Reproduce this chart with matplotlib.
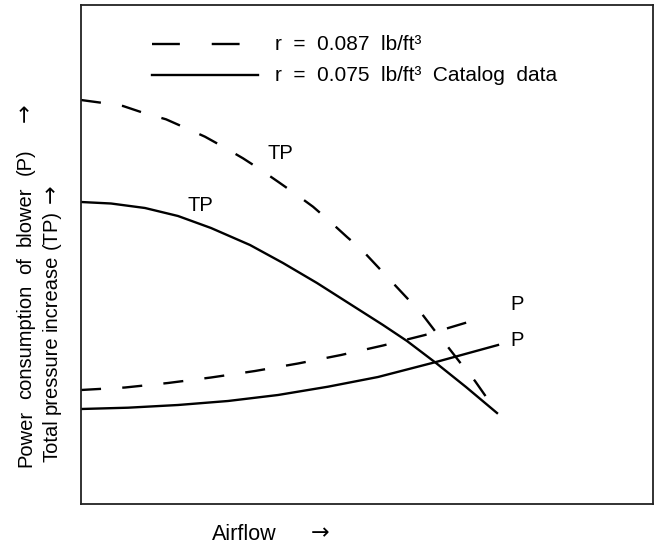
import matplotlib
matplotlib.use('Agg')
import matplotlib.pyplot as plt
from matplotlib.lines import Line2D

plt.rcParams['font.family'] = ['Liberation Sans', 'DejaVu Sans']

# chart units: x = airflow, y = TP / P (arbitrary)
tp_dense_x = [0, 20, 42, 62, 85, 104, 124, 142, 162, 179, 197, 215, 232, 249,
              266, 281, 296, 311, 326, 341, 354, 367, 381, 394, 415]
tp_dense_y = [404, 401.3, 398, 391.3, 384.7, 376.3, 367.3, 357.3, 345.7, 334.7,
              322.3, 309.7, 297.3, 282.5, 267, 254, 238, 222, 206, 190, 173,
              157, 139, 123, 93]

tp_cat_x = [0, 30, 64, 97, 130, 169, 202, 236, 269, 302, 326, 355, 385, 416]
tp_cat_y = [302, 300.5, 296, 288, 276, 259, 241, 221, 200, 179, 163, 141, 117, 91]

p_dense_x = [0, 44, 87, 130, 174, 217, 260, 302, 344, 384, 404]
p_dense_y = [114, 116.5, 121, 126.5, 133, 140.5, 149, 158.5, 169, 181, 187]

p_cat_x = [0, 47, 97, 147, 197, 247, 297, 355, 417]
p_cat_y = [95, 96.3, 99, 103, 109, 117.3, 127, 142, 159]

legend_labels = ['r  =  0.087  lb/ft³', 'r  =  0.075  lb/ft³  Catalog  data']

ylabel1 = ['Power', 'consumption', 'of', 'blower', '(P)']
ylabel2 = ['Total', 'pressure', 'increase', '(TP)']

W, H = 655, 544
fig = plt.figure(figsize=(W / 100, H / 100), dpi=100)
ax = fig.add_axes([81 / W, 40 / H, 572 / W, 499 / H])
ax.set_xlim(0, 572)
ax.set_ylim(0, 499)
ax.set_xticks([])
ax.set_yticks([])
for s in ax.spines.values():
    s.set_linewidth(1.3)
    s.set_color('#222222')

lw = 1.7
dash = (0, (8.5, 9.0))
ax.plot(tp_dense_x, tp_dense_y, color='black', lw=lw, linestyle=dash)
ax.plot(p_dense_x, p_dense_y, color='black', lw=lw, linestyle=dash)
ax.plot(tp_cat_x, tp_cat_y, color='black', lw=lw)
ax.plot(p_cat_x, p_cat_y, color='black', lw=lw)

fs = 14.5
ax.text(199.5, 351, 'TP', fontsize=fs, ha='center', va='center')
ax.text(119.5, 299, 'TP', fontsize=fs, ha='center', va='center')
ax.text(429, 199, 'P', fontsize=fs, ha='left', va='center')
ax.text(429, 164, 'P', fontsize=fs, ha='left', va='center')


def px(x, y):
    return x / W, 1 - y / H


# legend drawn by hand, as in the original figure
ax.add_line(Line2D([71, 177], [460, 460], color='black', lw=lw, linestyle=(0, (11.8, 13.5))))
ax.add_line(Line2D([71, 177], [429, 429], color='black', lw=lw))
fig.text(*px(275, 50), legend_labels[0], fontsize=15, ha='left', va='baseline')
fig.text(*px(275, 81), legend_labels[1], fontsize=15, ha='left', va='baseline')

# rotated axis captions, placed word by word
fig.canvas.draw()
renderer = fig.canvas.get_renderer()


def vertical_words(words, x_base, y_start, gap, size=14.5):
    y = y_start
    for w in words:
        t = fig.text(*px(x_base, y), w, fontsize=size, rotation=90,
                     rotation_mode='anchor', ha='left', va='baseline')
        bb = t.get_window_extent(renderer)
        y -= bb.height + gap


vertical_words(ylabel1, 31, 467, 11)
vertical_words(ylabel2, 57, 462, 5)

arrow_font = 'DejaVu Sans'
fig.text(*px(25, 113), '→', fontsize=16, family=arrow_font, rotation=90,
         ha='center', va='center')
fig.text(*px(51, 194), '→', fontsize=16, family=arrow_font, rotation=90,
         ha='center', va='center')

fig.text(*px(212, 540), 'Airflow', fontsize=15.5, ha='left', va='baseline')
fig.text(*px(320, 533), '→', fontsize=16, family=arrow_font, ha='center', va='center')

fig.savefig('out.png', dpi=100, facecolor='white')
